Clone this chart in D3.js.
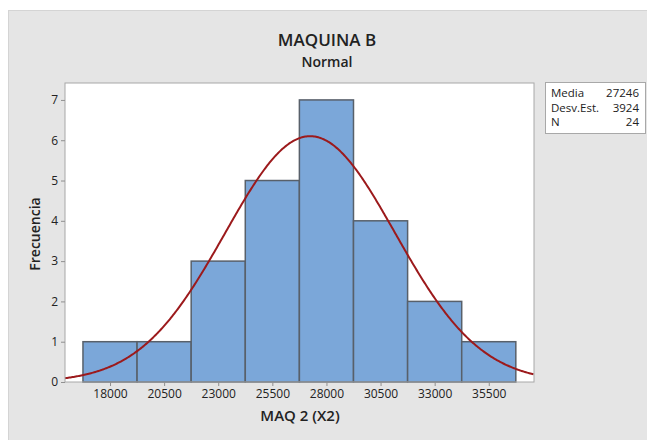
<!DOCTYPE html>
<html>
<head>
<meta charset="utf-8">
<script src="https://cdn.jsdelivr.net/npm/d3@7"></script>
<style>
  body { margin: 0; background: #fff; }
  text { font-family: "Open Sans", "Noto Sans", sans-serif; fill: #222; }
</style>
</head>
<body>
<svg width="647" height="440"></svg>
<script>
// histogram data
const binCenters = [18000, 20500, 23000, 25500, 28000, 30500, 33000, 35500];
const counts = [1, 1, 3, 5, 7, 4, 2, 1];
const binWidth = 2500;
const yTicks = [0, 1, 2, 3, 4, 5, 6, 7];
// stats shown in the box
const statLabels = ["Media", "Desv.Est.", "N"];
const statValues = [27246, 3924, 24];

const svg = d3.select("svg");

// outer grey panel
svg.append("rect")
   .attr("x", 8.5).attr("y", 10.5)
   .attr("width", 650).attr("height", 440)
   .attr("fill", "#e5e5e5")
   .attr("stroke", "#d4d4d4");

const plot = {left: 65, right: 534, top: 83, bottom: 382};

const x = d3.scaleLinear().domain([15920, 37590]).range([plot.left, plot.right]);
const y = d3.scaleLinear().domain([0, 7.42]).range([plot.bottom, plot.top]);

// plot area
svg.append("rect")
   .attr("x", plot.left).attr("y", plot.top)
   .attr("width", plot.right - plot.left).attr("height", plot.bottom - plot.top)
   .attr("fill", "#fff");

// bars
svg.selectAll(".bar")
   .data(binCenters)
   .enter()
   .append("rect")
     .attr("class", "bar")
     .attr("x", d => x(d - binWidth / 2))
     .attr("width", d => x(d + binWidth / 2) - x(d - binWidth / 2))
     .attr("y", (d, i) => y(counts[i]))
     .attr("height", (d, i) => y(0) - y(counts[i]))
     .attr("fill", "#7ba7d9")
     .attr("stroke", "#58606a")
     .attr("stroke-width", 1.5);

// fitted normal curve from the displayed mean / sd / N
const mean = statValues[0], sd = statValues[1], n = statValues[2];
const xs = d3.range(15920, 37600, 50);
const dens = v => n * binWidth / (sd * Math.sqrt(2 * Math.PI)) *
                  Math.exp(-0.5 * Math.pow((v - mean) / sd, 2));
svg.append("path")
   .datum(xs)
   .attr("fill", "none")
   .attr("stroke", "#9c1a1c")
   .attr("stroke-width", 2)
   .attr("d", d3.line().x(d => x(d)).y(d => y(dens(d))));

// frame
svg.append("rect")
   .attr("x", plot.left).attr("y", plot.top)
   .attr("width", plot.right - plot.left).attr("height", plot.bottom - plot.top)
   .attr("fill", "none")
   .attr("stroke", "#a8a8a8");

// axes
const xAxis = svg.append("g")
   .attr("transform", `translate(0,${plot.bottom})`)
   .call(d3.axisBottom(x).tickValues(binCenters).tickFormat(d3.format("d")).tickSize(4).tickPadding(3));
const yAxis = svg.append("g")
   .attr("transform", `translate(${plot.left},0)`)
   .call(d3.axisLeft(y).tickValues(yTicks).tickSize(4).tickPadding(3));
[xAxis, yAxis].forEach(g => {
  g.select(".domain").remove();
  g.selectAll("line").attr("stroke", "#909090");
  g.selectAll("text").style("font-size", "12px").attr("fill", "#222");
});

// titles
svg.append("text")
   .attr("x", 327).attr("y", 46)
   .attr("text-anchor", "middle")
   .style("font-size", "17px").style("font-weight", 600)
   .text("MAQUINA B");
svg.append("text")
   .attr("x", 327).attr("y", 67)
   .attr("text-anchor", "middle")
   .style("font-size", "14px").style("font-weight", 600)
   .text("Normal");
svg.append("text")
   .attr("x", 300).attr("y", 421)
   .attr("text-anchor", "middle")
   .style("font-size", "15px").style("font-weight", 600)
   .text("MAQ 2 (X2)");
svg.append("text")
   .attr("transform", "translate(40,234) rotate(-90)")
   .attr("text-anchor", "middle")
   .style("font-size", "14px").style("font-weight", 600)
   .text("Frecuencia");

// stats box
const box = svg.append("g");
box.append("rect")
   .attr("x", 545.5).attr("y", 82.5)
   .attr("width", 100).attr("height", 51)
   .attr("fill", "#fff")
   .attr("stroke", "#a8a8a8");
statLabels.forEach((s, i) => {
  box.append("text")
     .attr("x", 551).attr("y", 97 + i * 14.5)
     .style("font-size", "11.5px")
     .text(s);
  box.append("text")
     .attr("x", 639).attr("y", 97 + i * 14.5)
     .attr("text-anchor", "end")
     .style("font-size", "11.5px")
     .text(statValues[i]);
});
</script>
</body>
</html>
